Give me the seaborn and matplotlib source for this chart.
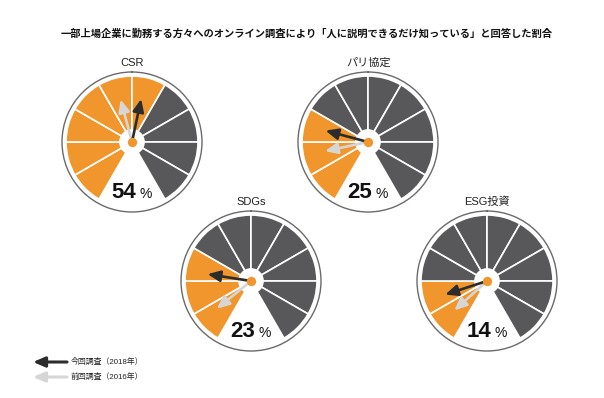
import numpy as np
import seaborn as sns
import matplotlib.pyplot as plt

sns.set_theme(style="white")
plt.rcParams['font.family'] = ['Liberation Sans', 'Noto Sans CJK JP', 'DejaVu Sans']

# data
labels = ['CSR', 'パリ協定', 'SDGs', 'ESG投資']
pct_2018 = [54, 25, 23, 14]
pct_2016 = [45, 16, 7, 6]
title = '一部上場企業に勤務する方々へのオンライン調査により「人に説明できるだけ知っている」と回答した割合'
legend_labels = ['今回調査（2018年）', '前回調査（2016年）']

orange = '#f0962c'
dark = '#58585a'
arrow_now = '#2c2c2c'
arrow_prev = '#d6d6d6'

W, H = 604, 398
centers = [(132, 142), (368, 142), (251, 281), (487, 281)]
R = 70            # outer circle (px)
r_out, r_in = 66, 12
arrow_len = 44


def to_theta(p):
    # 0% at -150deg, 100% at +150deg, clockwise from top
    return np.deg2rad(-150 + 3 * p)


fig = plt.figure(figsize=(W / 100, H / 100), dpi=100)

seg_pct = np.arange(10) * 10 + 5
seg_theta = to_theta(seg_pct)

for lab, now, prev, (cx, cy) in zip(labels, pct_2018, pct_2016, centers):
    ax = fig.add_axes([(cx - R) / W, 1 - (cy + R) / H, 2 * R / W, 2 * R / H],
                      projection='polar')
    ax.set_theta_zero_location('N')
    ax.set_theta_direction(-1)
    n_fill = int(np.ceil(now / 10))
    cols = [orange if i < n_fill else dark for i in range(10)]
    ax.bar(seg_theta, r_out - r_in, width=np.deg2rad(30), bottom=r_in,
           color=cols, edgecolor='white', linewidth=1.2, zorder=1)
    ax.set_ylim(0, R)
    ax.grid(False)
    ax.set_xticks([])
    ax.set_yticks([])
    ax.spines['polar'].set_color('#6a6a6a')
    ax.spines['polar'].set_linewidth(1.0)

    for p, c in [(prev, arrow_prev), (now, arrow_now)]:
        ax.annotate('', xy=(to_theta(p), arrow_len), xytext=(0, 0),
                    arrowprops=dict(arrowstyle='-|>,head_length=0.75,head_width=0.33',
                                    color=c, lw=1.9, shrinkA=0, shrinkB=0,
                                    mutation_scale=10), zorder=4)
    ax.scatter([0], [0], s=45, color=orange, zorder=6, linewidths=0)

    ax.text(0.5, 1.065, lab, transform=ax.transAxes, ha='center', va='center',
            fontsize=8, color='#222222')
    ax.annotate(str(now), xy=(0.5, 0.1), xycoords='axes fraction',
                xytext=(3, 0), textcoords='offset points', ha='right',
                va='baseline', fontsize=16, fontweight='bold', color='#111111')
    ax.annotate('%', xy=(0.5, 0.1), xycoords='axes fraction',
                xytext=(5.5, 0), textcoords='offset points', ha='left',
                va='baseline', fontsize=10, color='#111111')

fig.text(307 / W, 1 - 33 / H, title, ha='center', va='center',
         fontsize=7.4, fontweight='bold', color='#111111')

# legend
lax = fig.add_axes([0, 0, 1, 1])
lax.set_xlim(0, W)
lax.set_ylim(H, 0)
lax.axis('off')
for i, (lab, c) in enumerate(zip(legend_labels, [arrow_now, arrow_prev])):
    y = 362 + i * 15
    lax.annotate('', xy=(33, y), xytext=(67, y),
                 arrowprops=dict(arrowstyle='-|>,head_length=0.7,head_width=0.3',
                                 color=c, lw=2.2, shrinkA=0, shrinkB=0,
                                 mutation_scale=10))
    lax.text(71, y, lab, ha='left', va='center', fontsize=5.7, color='#222222')

fig.savefig('out.png', dpi=100)
